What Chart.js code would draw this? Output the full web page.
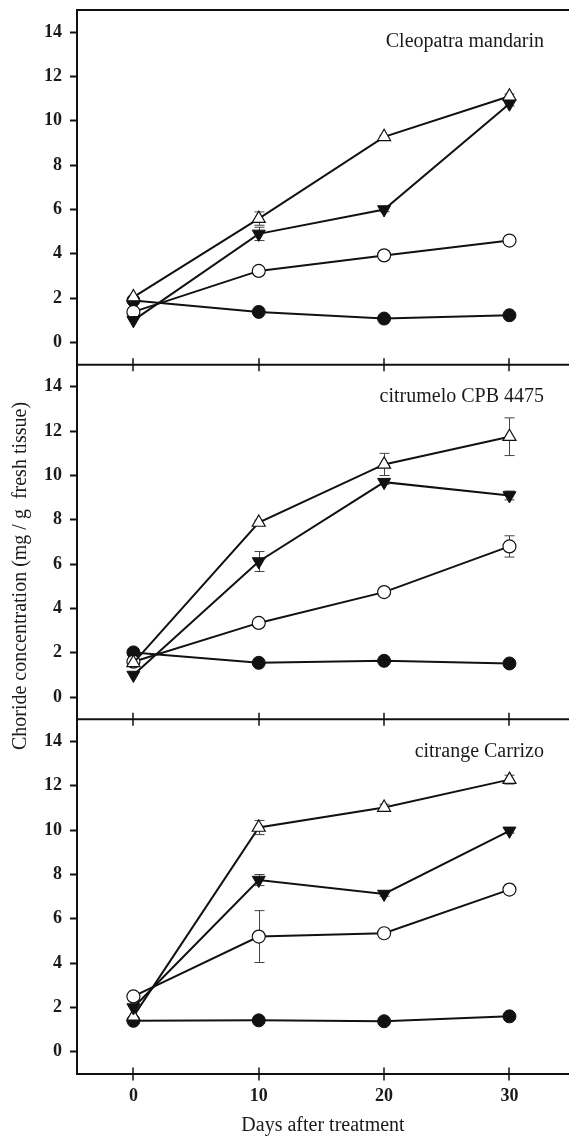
<!DOCTYPE html>
<html>
<head>
<meta charset="utf-8">
<script src="https://cdn.jsdelivr.net/npm/chart.js@4/dist/chart.umd.min.js"></script>
<style>
  html, body { margin: 0; padding: 0; background: #fff; }
  #wrap { position: relative; width: 569px; height: 1138px; }
</style>
</head>
<body>
<div id="wrap"><canvas id="chloride"></canvas></div>
<script>
const days = [0, 10, 20, 30];
const xTickValues = [0, 10, 20, 30];
const yTickValues = [0, 2, 4, 6, 8, 10, 12, 14];
const panelTitles = ['Cleopatra mandarin', 'citrumelo CPB 4475', 'citrange Carrizo'];

// Cleopatra mandarin
const cleoFilledCircle = [1.9, 1.38, 1.08, 1.23];
const cleoOpenCircle = [1.38, 3.23, 3.93, 4.6];
const cleoFilledDown = [1.0, 4.9, 6.0, 10.77];
const cleoOpenUp = [2.05, 5.59, 9.28, 11.11];
const cleoFilledCircleErr = [0, 0.05, 0.05, 0.05];
const cleoOpenCircleErr = [0, 0.05, 0.2, 0.05];
const cleoFilledDownErr = [0, 0.3, 0.1, 0.1];
const cleoOpenUpErr = [0, 0.3, 0.05, 0.1];

// citrumelo CPB 4475
const citruFilledCircle = [2.02, 1.55, 1.64, 1.52];
const citruOpenCircle = [1.6, 3.35, 4.74, 6.8];
const citruFilledDown = [1.0, 6.12, 9.7, 9.1];
const citruOpenUp = [1.55, 7.88, 10.5, 11.75];
const citruFilledCircleErr = [0, 0.05, 0.05, 0.05];
const citruOpenCircleErr = [0, 0.05, 0.05, 0.48];
const citruFilledDownErr = [0, 0.45, 0.1, 0.2];
const citruOpenUpErr = [0, 0.1, 0.5, 0.85];

// citrange Carrizo
const carrFilledCircle = [1.4, 1.42, 1.38, 1.6];
const carrOpenCircle = [2.5, 5.2, 5.35, 7.32];
const carrFilledDown = [2.0, 7.75, 7.12, 9.97];
const carrOpenUp = [1.6, 10.12, 11.02, 12.28];
const carrFilledCircleErr = [0, 0.05, 0.05, 0.05];
const carrOpenCircleErr = [0, 1.17, 0.05, 0.05];
const carrFilledDownErr = [0, 0.25, 0.1, 0.1];
const carrOpenUpErr = [0, 0.32, 0.15, 0.2];

const INK = '#111';
const SERIF = '"Liberation Serif", "Times New Roman", serif';

const markerStyles = {
    filledCircle: { pointStyle: 'circle', pointRadius: 6.5, pointBackgroundColor: INK, pointBorderColor: INK, pointBorderWidth: 1, pointRotation: 0 },
    openCircle: { pointStyle: 'circle', pointRadius: 6.5, pointBackgroundColor: '#fff', pointBorderColor: INK, pointBorderWidth: 1.2, pointRotation: 0 },
    filledDown: { pointStyle: 'triangle', pointRadius: 7.5, pointBackgroundColor: INK, pointBorderColor: INK, pointBorderWidth: 1, pointRotation: 180 },
    openUp: { pointStyle: 'triangle', pointRadius: 7.5, pointBackgroundColor: '#fff', pointBorderColor: INK, pointBorderWidth: 1.2, pointRotation: 0 }
};

function makeSeries(axisId, values, errors, marker) {
    return Object.assign({
        yAxisID: axisId,
        data: days.map((d, i) => ({ x: d, y: values[i] })),
        errors: errors,
        borderColor: INK,
        borderWidth: 2,
        tension: 0,
        fill: false
    }, markerStyles[marker]);
}

// drawn order: first dataset ends up on top
const datasets = [
    makeSeries('yA', cleoOpenUp, cleoOpenUpErr, 'openUp'),
    makeSeries('yA', cleoFilledDown, cleoFilledDownErr, 'filledDown'),
    makeSeries('yA', cleoOpenCircle, cleoOpenCircleErr, 'openCircle'),
    makeSeries('yA', cleoFilledCircle, cleoFilledCircleErr, 'filledCircle'),
    makeSeries('yB', citruOpenUp, citruOpenUpErr, 'openUp'),
    makeSeries('yB', citruFilledDown, citruFilledDownErr, 'filledDown'),
    makeSeries('yB', citruOpenCircle, citruOpenCircleErr, 'openCircle'),
    makeSeries('yB', citruFilledCircle, citruFilledCircleErr, 'filledCircle'),
    makeSeries('yC', carrOpenCircle, carrOpenCircleErr, 'openCircle'),
    makeSeries('yC', carrFilledDown, carrFilledDownErr, 'filledDown'),
    makeSeries('yC', carrOpenUp, carrOpenUpErr, 'openUp'),
    makeSeries('yC', carrFilledCircle, carrFilledCircleErr, 'filledCircle')
];

const panelIds = ['yA', 'yB', 'yC'];

function panelScale() {
    return {
        type: 'linear',
        position: 'left',
        stack: 'panels',
        stackWeight: 1,
        min: -1,
        max: 15,
        afterBuildTicks: s => { s.ticks = yTickValues.map(v => ({ value: v })); },
        afterFit: s => { s.width = 77; s.paddingTop = 0; s.paddingBottom = 0; },
        grid: { drawOnChartArea: false, drawTicks: true, tickLength: 7, tickColor: INK, tickWidth: 2 },
        border: { display: true, color: INK, width: 2 },
        ticks: { color: '#1a1a1a', padding: 8, font: { family: SERIF, size: 18, weight: 'bold' } }
    };
}

const panelDecor = {
    id: 'panelDecor',
    beforeDatasetsDraw(chart) {
        const ctx = chart.ctx;
        const xs = chart.scales.x;
        ctx.save();
        ctx.strokeStyle = '#444';
        ctx.lineWidth = 1;
        chart.data.datasets.forEach(ds => {
            const ys = chart.scales[ds.yAxisID];
            ds.data.forEach((pt, i) => {
                const e = ds.errors[i];
                if (!e) return;
                const px = Math.round(xs.getPixelForValue(pt.x)) + 0.5;
                const top = ys.getPixelForValue(pt.y + e);
                const bot = ys.getPixelForValue(pt.y - e);
                ctx.beginPath();
                ctx.moveTo(px, top); ctx.lineTo(px, bot);
                ctx.moveTo(px - 5, top); ctx.lineTo(px + 5, top);
                ctx.moveTo(px - 5, bot); ctx.lineTo(px + 5, bot);
                ctx.stroke();
            });
        });
        ctx.restore();
    },
    afterDraw(chart) {
        const ctx = chart.ctx;
        const xs = chart.scales.x;
        const area = chart.chartArea;
        ctx.save();
        panelIds.forEach((id, p) => {
            const ys = chart.scales[id];
            ctx.strokeStyle = INK;
            ctx.lineWidth = 2;
            ctx.beginPath();
            ctx.moveTo(area.left - 1, ys.top);
            ctx.lineTo(area.right, ys.top);
            ctx.stroke();
            ctx.lineWidth = 1.5;
            ctx.beginPath();
            xTickValues.forEach(v => {
                const px = Math.round(xs.getPixelForValue(v));
                ctx.moveTo(px, ys.bottom - 6.5);
                ctx.lineTo(px, ys.bottom + 6.5);
            });
            ctx.stroke();
            ctx.fillStyle = '#1a1a1a';
            ctx.font = '20px ' + SERIF;
            ctx.textAlign = 'right';
            ctx.textBaseline = 'middle';
            ctx.fillText(panelTitles[p], 544, ys.top + 32);
        });
        ctx.translate(21, 576);
        ctx.rotate(-Math.PI / 2);
        ctx.textAlign = 'center';
        ctx.textBaseline = 'middle';
        ctx.fillStyle = '#1a1a1a';
        ctx.font = '20px ' + SERIF;
        ctx.fillText('Choride concentration (mg / g  fresh tissue)', 0, 0);
        ctx.restore();
    }
};

new Chart(document.getElementById('chloride'), {
    type: 'line',
    data: { datasets: datasets },
    options: {
        responsive: true,
        maintainAspectRatio: false,
        animation: false,
        layout: { autoPadding: false, padding: { top: 10, left: 0, right: 0, bottom: 0 } },
        plugins: { legend: { display: false }, tooltip: { enabled: false } },
        scales: {
            x: {
                type: 'linear',
                position: 'bottom',
                min: -4.5,
                max: 34.75,
                afterBuildTicks: s => { s.ticks = xTickValues.map(v => ({ value: v })); },
                afterFit: s => { s.height = 64; s.paddingLeft = 0; s.paddingRight = 0; },
                grid: { display: true, drawOnChartArea: false, drawTicks: false },
                border: { display: true, color: INK, width: 2 },
                ticks: { color: '#1a1a1a', padding: 12, font: { family: SERIF, size: 18, weight: 'bold' } },
                title: { display: true, text: 'Days after treatment', color: '#1a1a1a', padding: { top: 0, bottom: 0 }, font: { family: SERIF, size: 20 } }
            },
            yC: panelScale(),
            yB: panelScale(),
            yA: panelScale()
        }
    },
    plugins: [panelDecor]
});
</script>
</body>
</html>
